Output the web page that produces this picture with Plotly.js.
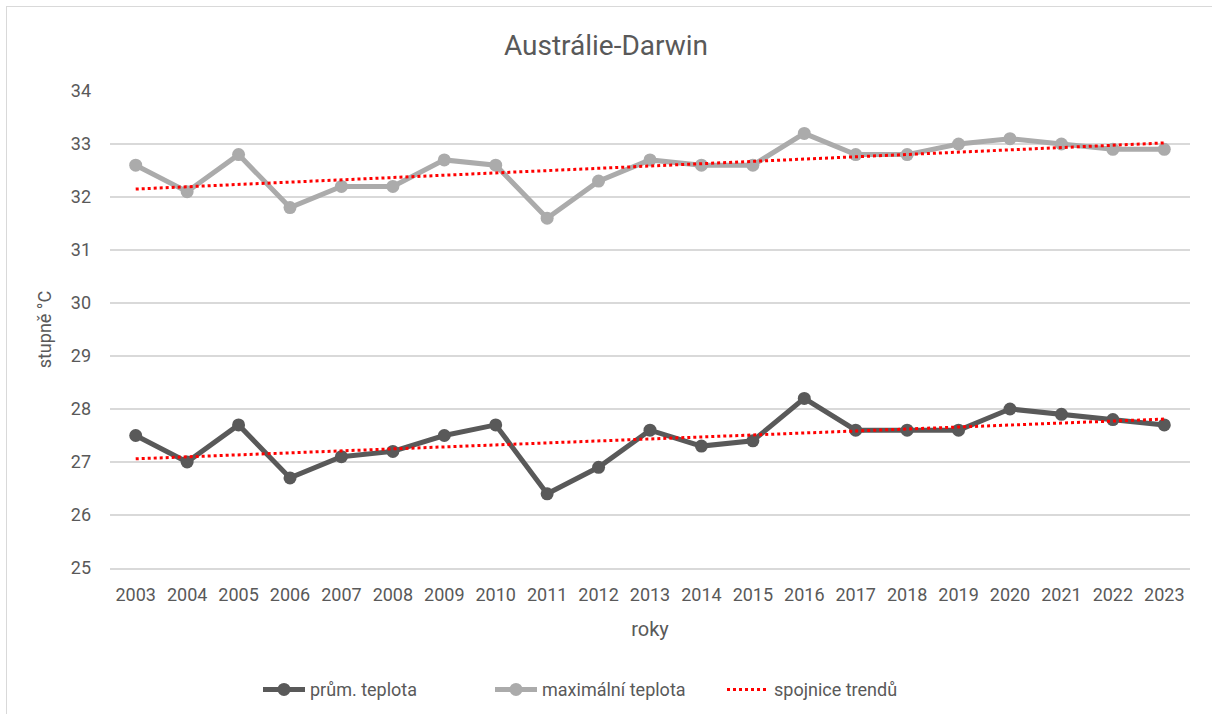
<!DOCTYPE html>
<html>
<head>
<meta charset="utf-8">
<script src="https://cdn.plot.ly/plotly-3.0.1.min.js"></script>
<style>
  html, body { margin: 0; padding: 0; background: #fff; overflow: hidden; }
  #frame { position: absolute; left: 6px; top: 6px; width: 1230px; height: 740px; border: 1px solid #d9d9d9; box-sizing: border-box; }
  #chart { position: absolute; left: 0; top: 0; width: 1212px; height: 714px; }
</style>
</head>
<body>
<div id="frame"></div>
<div id="chart"></div>
<script>
const years = ['2003','2004','2005','2006','2007','2008','2009','2010','2011','2012','2013','2014','2015','2016','2017','2018','2019','2020','2021','2022','2023'];
const avgTemp = [27.5, 27.0, 27.7, 26.7, 27.1, 27.2, 27.5, 27.7, 26.4, 26.9, 27.6, 27.3, 27.4, 28.2, 27.6, 27.6, 27.6, 28.0, 27.9, 27.8, 27.7];
const maxTemp = [32.6, 32.1, 32.8, 31.8, 32.2, 32.2, 32.7, 32.6, 31.6, 32.3, 32.7, 32.6, 32.6, 33.2, 32.8, 32.8, 33.0, 33.1, 33.0, 32.9, 32.9];
const trendYears = ['2003', '2023'];
const avgTrend = [27.06, 27.81];
const maxTrend = [32.15, 33.02];

const gray = '#595959';
const traces = [
  { x: years, y: avgTemp, name: 'prům. teplota', mode: 'lines+markers',
    line: { color: '#595959', width: 5 }, marker: { color: '#595959', size: 13 } },
  { x: years, y: maxTemp, name: 'maximální teplota', mode: 'lines+markers',
    line: { color: '#ababab', width: 5 }, marker: { color: '#ababab', size: 13 } },
  { x: trendYears, y: avgTrend, name: 'spojnice trendů', mode: 'lines',
    line: { color: '#ff0000', width: 3, dash: 'dot' }, legendgroup: 'trend' },
  { x: trendYears, y: maxTrend, name: 'spojnice trendů', mode: 'lines', showlegend: false,
    line: { color: '#ff0000', width: 3, dash: 'dot' }, legendgroup: 'trend' }
];

const layout = {
  width: 1212, height: 714,
  margin: { l: 110, r: 22, t: 91, b: 146, autoexpand: false },
  paper_bgcolor: 'rgba(0,0,0,0)', plot_bgcolor: '#fff',
  font: { family: 'Roboto, "Open Sans", sans-serif', color: gray, size: 16 },
  title: { text: 'Austrálie-Darwin', x: 0.5, xanchor: 'center', y: 0.937, yanchor: 'middle',
           font: { size: 28, color: gray } },
  xaxis: {
    type: 'category', categoryorder: 'array', categoryarray: years,
    range: [-0.5, 20.5], showgrid: false, zeroline: false, automargin: false,
    showline: true, linecolor: '#d9d9d9', linewidth: 1.5,
    ticks: '', ticklabelstandoff: 10, tickfont: { size: 18, color: gray },
    title: { text: 'roky', font: { size: 20, color: gray }, standoff: 18 }
  },
  yaxis: {
    range: [25, 34], dtick: 1, tick0: 25, automargin: false,
    showgrid: true, gridcolor: '#d9d9d9', gridwidth: 1.5, zeroline: false,
    showline: false, ticks: '', ticklabelstandoff: 18,
    tickfont: { size: 18, color: gray },
    title: { text: 'stupně °C', font: { size: 18, color: gray }, standoff: 14 }
  },
  legend: { orientation: 'h', x: 0.5, xanchor: 'center', xref: 'container',
            y: 0.034, yanchor: 'middle', yref: 'container',
            font: { size: 18, color: gray }, itemwidth: 42, entrywidth: 175 },
  showlegend: true
};

Plotly.newPlot('chart', traces, layout, { displayModeBar: false, staticPlot: true });
</script>
</body>
</html>
